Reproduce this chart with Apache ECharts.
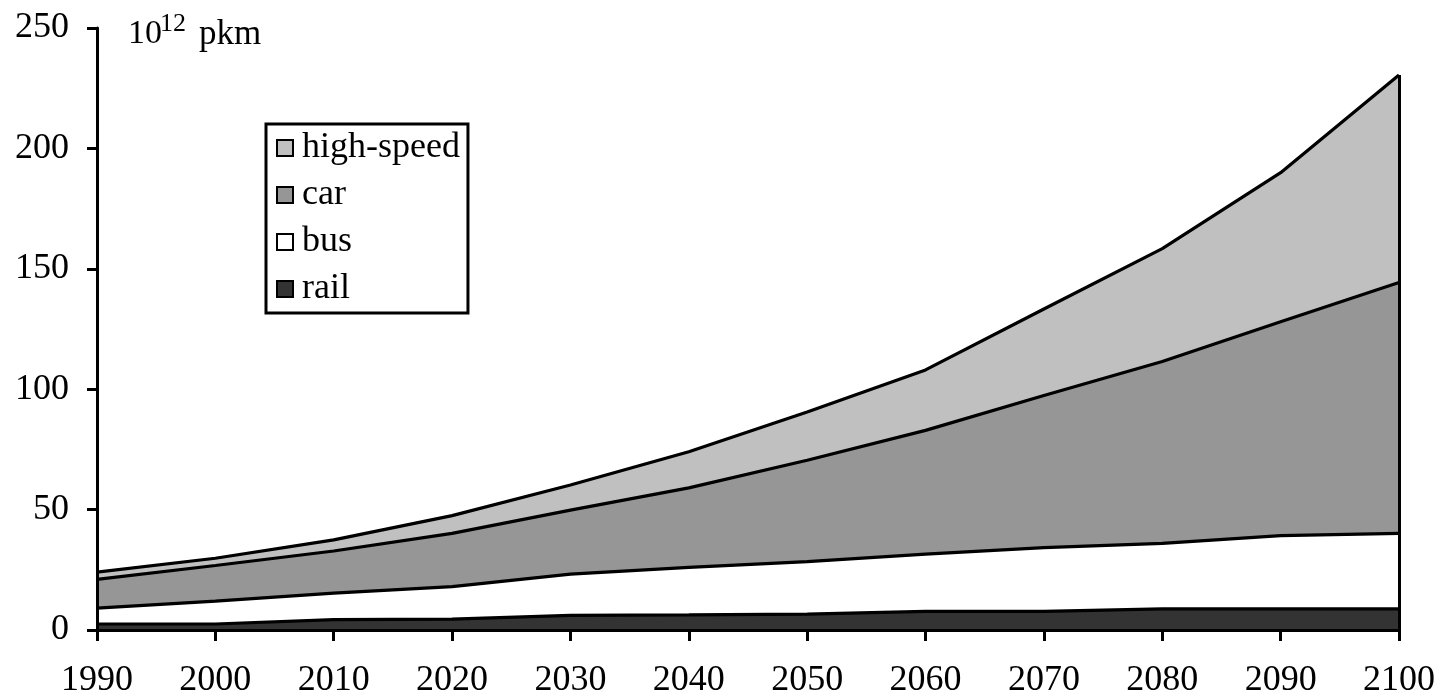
<!DOCTYPE html>
<html>
<head>
<meta charset="utf-8">
<script src="https://cdn.jsdelivr.net/npm/echarts@6/dist/echarts.min.js"></script>
<style>
html,body{margin:0;padding:0;background:#fff;}
#c{width:1442px;height:699px;}
</style>
</head>
<body>
<div id="c"></div>
<script>
const years = ['1990','2000','2010','2020','2030','2040','2050','2060','2070','2080','2090','2100'];
const rail = [2.5, 2.5, 4.3, 4.5, 6.1, 6.3, 6.6, 7.7, 7.7, 8.8, 8.8, 8.8];
const bus = [6.6, 9.5, 11.0, 13.5, 17.1, 19.7, 21.8, 23.8, 26.5, 27.2, 30.4, 31.3];
const car = [11.9, 14.8, 17.5, 22.1, 26.6, 33.0, 42.1, 51.4, 63.2, 75.5, 88.8, 104.2];
const highSpeed = [3.0, 3.0, 4.6, 7.4, 10.4, 15.0, 20.0, 25.1, 35.9, 46.9, 61.9, 86.2];
const yTicks = [0, 50, 100, 150, 200, 250];

const FONT = 'Liberation Serif';
const last = years.length - 1;
const totalLast = rail[last] + bus[last] + car[last] + highSpeed[last];

function areaSeries(name, data, color, extra) {
  return Object.assign({
    name: name,
    type: 'line',
    stack: 'total',
    data: data,
    symbol: 'none',
    showSymbol: false,
    lineStyle: { color: '#000', width: 3.2 },
    areaStyle: { color: color, opacity: 1 },
    itemStyle: { color: color, borderColor: '#000', borderWidth: 2.5 },
    emphasis: { disabled: true },
    silent: true,
    animation: false
  }, extra || {});
}

const chart = echarts.init(document.getElementById('c'));
chart.setOption({
  animation: false,
  backgroundColor: '#fff',
  grid: { left: 97, right: 43, top: 28, bottom: 67, containLabel: false },
  xAxis: {
    type: 'category',
    data: years,
    boundaryGap: false,
    axisLine: { show: true, lineStyle: { color: '#000', width: 3 } },
    axisTick: { show: true, inside: false, length: 11, interval: 0, lineStyle: { color: '#000', width: 3 } },
    axisLabel: { interval: 0, color: '#000', fontFamily: FONT, fontSize: 36, margin: 33 },
    splitLine: { show: false },
    z: 10
  },
  yAxis: {
    type: 'value',
    min: yTicks[0],
    max: yTicks[yTicks.length - 1],
    interval: 50,
    axisLine: { show: true, lineStyle: { color: '#000', width: 3 } },
    axisTick: { show: true, inside: false, length: 10, lineStyle: { color: '#000', width: 3 } },
    axisLabel: { color: '#000', fontFamily: FONT, fontSize: 36, margin: 28 },
    splitLine: { show: false },
    z: 10
  },
  legend: {
    orient: 'vertical',
    left: 266,
    top: 124,
    data: ['high-speed', 'car', 'bus', 'rail'],
    icon: 'rect',
    itemWidth: 16,
    itemHeight: 16,
    itemGap: 11,
    padding: [6, 8, 6, 10],
    borderColor: '#000',
    borderWidth: 3,
    backgroundColor: '#fff',
    textStyle: { color: '#000', fontFamily: FONT, fontSize: 36, padding: [0, 0, 0, 4] },
    selectedMode: false
  },
  graphic: [
    { type: 'text', left: 128, top: 17, style: { text: '10', font: '34px "Liberation Serif"', fill: '#000' } },
    { type: 'text', left: 160, top: 11, style: { text: '12', font: '26px "Liberation Serif"', fill: '#000' } },
    { type: 'text', left: 199, top: 17, style: { text: 'pkm', font: '35px "Liberation Serif"', fill: '#000' } }
  ],
  series: [
    areaSeries('rail', rail, '#333333'),
    areaSeries('bus', bus, '#ffffff'),
    areaSeries('car', car, '#969696'),
    areaSeries('high-speed', highSpeed, '#c0c0c0', {
      markLine: {
        silent: true,
        symbol: ['none', 'none'],
        label: { show: false },
        lineStyle: { color: '#000', width: 3, type: 'solid' },
        data: [[{ coord: [years[last], 0] }, { coord: [years[last], totalLast] }]]
      }
    })
  ]
});
</script>
</body>
</html>
